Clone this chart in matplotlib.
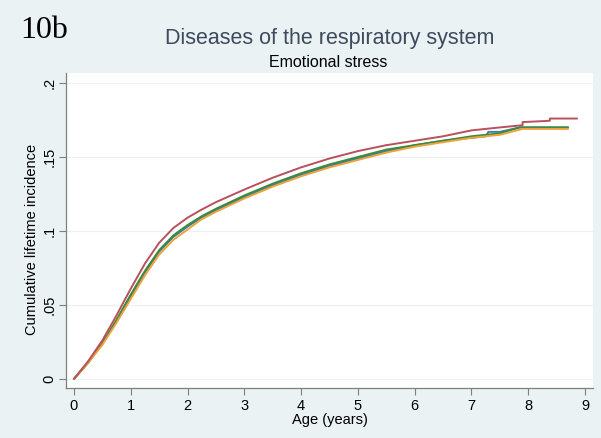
import matplotlib
matplotlib.use("Agg")
import matplotlib.pyplot as plt

# ---- data ----
age_red = [0, 0.25, 0.5, 0.75, 1.0, 1.25, 1.5, 1.75, 2.0, 2.25, 2.5, 3.0, 3.5, 4.0, 4.5, 5.0, 5.5, 6.0, 6.5, 7.0, 7.5, 7.9, 7.9, 8.38, 8.38, 8.86]
inc_red = [0, 0.012, 0.026, 0.043, 0.061, 0.078, 0.092, 0.102, 0.109, 0.1145, 0.1195, 0.128, 0.136, 0.143, 0.149, 0.154, 0.158, 0.161, 0.164, 0.168, 0.170, 0.1715, 0.1736, 0.1745, 0.176, 0.176]

age_green = [0, 0.25, 0.5, 0.75, 1.0, 1.25, 1.5, 1.75, 2.0, 2.25, 2.5, 3.0, 3.5, 4.0, 4.5, 5.0, 5.5, 6.0, 6.5, 7.0, 7.5, 7.85, 8.7]
inc_green = [0, 0.011, 0.024, 0.040, 0.057, 0.073, 0.087, 0.097, 0.104, 0.110, 0.115, 0.124, 0.132, 0.139, 0.145, 0.150, 0.155, 0.158, 0.161, 0.164, 0.166, 0.170, 0.170]

age_blue = [0, 0.25, 0.5, 0.75, 1.0, 1.25, 1.5, 1.75, 2.0, 2.25, 2.5, 3.0, 3.5, 4.0, 4.5, 5.0, 5.5, 6.0, 6.5, 7.0, 7.25, 7.3, 7.5, 7.85, 8.7]
inc_blue = [0, 0.011, 0.024, 0.039, 0.056, 0.072, 0.086, 0.096, 0.103, 0.109, 0.114, 0.123, 0.131, 0.138, 0.144, 0.149, 0.154, 0.158, 0.161, 0.163, 0.164, 0.167, 0.167, 0.170, 0.170]

age_orange = [0, 0.25, 0.5, 0.75, 1.0, 1.25, 1.5, 1.75, 2.0, 2.25, 2.5, 3.0, 3.5, 4.0, 4.5, 5.0, 5.5, 6.0, 6.5, 7.0, 7.5, 7.9, 8.7]
inc_orange = [0, 0.011, 0.023, 0.038, 0.054, 0.070, 0.084, 0.094, 0.101, 0.108, 0.113, 0.122, 0.130, 0.137, 0.143, 0.148, 0.153, 0.157, 0.160, 0.163, 0.165, 0.169, 0.169]

x_ticks = [0, 1, 2, 3, 4, 5, 6, 7, 8, 9]
y_ticks = [0, 0.05, 0.1, 0.15, 0.2]
y_tick_labels = ["0", ".05", ".1", ".15", ".2"]

title = "Diseases of the respiratory system"
subtitle = "Emotional stress"
panel = "10b"
xlabel = "Age (years)"
ylabel = "Cumulative lifetime incidence"

# ---- figure ----
plt.rcParams['font.family'] = ['Liberation Sans', 'DejaVu Sans']
bg = '#EAF2F3'
fig = plt.figure(figsize=(6.01, 4.38), dpi=100, facecolor=bg)
ax = fig.add_axes([0.1098, 0.1142, 0.8769, 0.7192])
ax.set_facecolor('white')

series = [
    (age_blue, inc_blue, '#3C7FA3'),
    (age_green, inc_green, '#3B8A3E'),
    (age_orange, inc_orange, '#EFA23A'),
    (age_red, inc_red, '#B9505C'),
]
for xs, ys, c in series:
    ax.plot(xs, ys, color=c, lw=1.4, solid_joinstyle='round', solid_capstyle='round')

ax.set_xlim(-0.14, 9.14)
ax.set_ylim(-0.0061, 0.2068)
ax.set_xticks(x_ticks)
ax.set_yticks(y_ticks)
ax.set_yticklabels(y_tick_labels, rotation=90, va='center')
ax.tick_params(axis='both', direction='out', length=5, width=0.8, color='#7F7F7F',
               labelsize=10.5, labelcolor='black')
ax.tick_params(axis='y', pad=2)
ax.tick_params(axis='x', pad=3)
for s in ['top', 'right']:
    ax.spines[s].set_visible(False)
for s in ['left', 'bottom']:
    ax.spines[s].set_color('#7F7F7F')
    ax.spines[s].set_linewidth(0.9)
ax.grid(axis='y', color=bg, lw=0.9)
ax.set_axisbelow(True)

ax.set_xlabel(xlabel, fontsize=10.5, labelpad=0)
ax.set_ylabel(ylabel, fontsize=10.5)
ax.yaxis.set_label_coords(-0.052, 0.47)

fig.text(0.548, 0.913, title, ha='center', va='center', fontsize=15.5, color='#3E4B5E')
fig.text(0.546, 0.857, subtitle, ha='center', va='center', fontsize=11.5, color='black')
fig.text(0.034, 0.93, panel, ha='left', va='center', fontsize=23,
         family=['Liberation Serif', 'DejaVu Serif'], color='black')

fig.savefig('out.png', dpi=100, facecolor=bg)
